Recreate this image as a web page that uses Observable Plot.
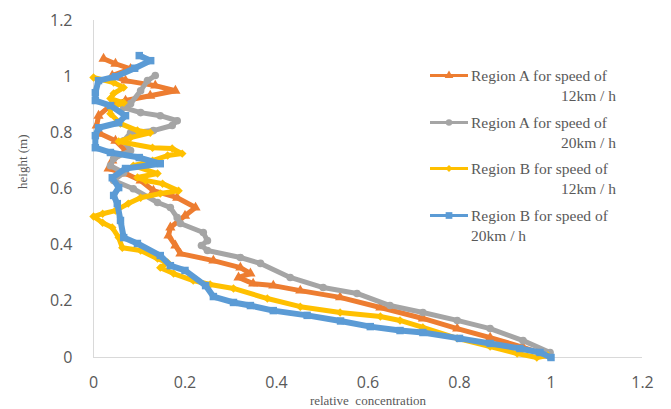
<!DOCTYPE html>
<html>
<head>
<meta charset="utf-8">
<script src="https://cdn.jsdelivr.net/npm/d3@7"></script>
<script src="https://cdn.jsdelivr.net/npm/@observablehq/plot@0.6"></script>
<style>
  body { margin: 0; background: #fff; }
  #wrap { position: relative; width: 671px; height: 409px; }
  .leg { position: absolute; font-family: "Liberation Serif", serif; font-size: 15.5px; color: #595959; white-space: nowrap; }
  .leg svg { position: absolute; left: 0; top: 0; }
</style>
</head>
<body>
<div id="wrap"></div>
<script>
// ---- Data ----
const seriesNames = ["Region A for speed of 12km / h", "Region A for speed of 20km / h", "Region B for speed of 12km / h", "Region B for speed of 20km / h"];
const seriesColors = ["#ED7D31", "#A5A5A5", "#FFC000", "#5B9BD5"];
const seriesSymbols = ["triangle", "circle", "diamond2", "square"];

const regionA12_conc =   [0.022,0.048,0.081,0.041,0.07,0.135,0.179,0.124,0.07,0.037,0.011,0.007,0.015,0.048,0.07,0.041,0.033,0.07,0.103,0.131,0.183,0.223,0.2,0.168,0.164,0.179,0.19,0.262,0.321,0.343,0.317,0.349,0.393,0.452,0.539,0.627,0.72,0.795,0.867,0.939,0.993];
const regionA12_height = [1.064,1.046,1.028,1.004,0.986,0.968,0.95,0.932,0.915,0.897,0.861,0.826,0.797,0.772,0.737,0.701,0.673,0.655,0.63,0.594,0.569,0.534,0.505,0.463,0.434,0.399,0.37,0.345,0.32,0.299,0.285,0.263,0.256,0.238,0.214,0.178,0.139,0.103,0.071,0.036,0.007];

const regionA20_conc =   [0.135,0.118,0.103,0.081,0.066,0.103,0.146,0.183,0.172,0.131,0.081,0.066,0.081,0.044,0.037,0.066,0.044,0.087,0.14,0.168,0.183,0.19,0.24,0.249,0.236,0.249,0.321,0.365,0.43,0.502,0.576,0.648,0.72,0.795,0.867,0.939,0.998];
const regionA20_height = [1.004,0.986,0.95,0.904,0.89,0.872,0.861,0.843,0.826,0.808,0.8,0.772,0.737,0.708,0.683,0.658,0.63,0.601,0.552,0.534,0.498,0.477,0.445,0.416,0.399,0.381,0.356,0.335,0.285,0.249,0.228,0.185,0.16,0.132,0.103,0.06,0.018];

const regionB12_conc =   [0.0,0.044,0.066,0.044,0.037,0.066,0.037,0.037,0.059,0.096,0.124,0.081,0.055,0.129,0.172,0.194,0.162,0.129,0.087,0.14,0.096,0.114,0.151,0.186,0.146,0.103,0.076,0.048,0.02,0.0,0.02,0.041,0.055,0.063,0.103,0.14,0.162,0.146,0.175,0.218,0.255,0.306,0.38,0.452,0.539,0.627,0.67,0.72,0.795,0.867,0.926,0.969,0.993];
const regionB12_height = [0.997,0.979,0.961,0.94,0.922,0.907,0.89,0.868,0.833,0.808,0.8,0.783,0.769,0.747,0.744,0.726,0.719,0.701,0.683,0.655,0.641,0.63,0.619,0.594,0.584,0.569,0.548,0.523,0.512,0.502,0.48,0.463,0.427,0.391,0.381,0.352,0.338,0.32,0.299,0.274,0.26,0.246,0.21,0.181,0.16,0.146,0.132,0.107,0.068,0.039,0.014,0.0,0.007];

const regionB20_conc =   [0.10,0.125,0.09,0.048,0.011,0.004,0.004,0.037,0.07,0.055,0.011,0.004,0.004,0.037,0.10,0.146,0.07,0.041,0.055,0.044,0.052,0.059,0.066,0.096,0.146,0.168,0.2,0.245,0.262,0.306,0.343,0.393,0.467,0.54,0.605,0.67,0.72,0.80,0.867,0.932,0.976,1.0];
const regionB20_height = [1.075,1.057,1.03,1.0,0.986,0.943,0.915,0.897,0.861,0.836,0.818,0.79,0.747,0.73,0.712,0.69,0.673,0.64,0.605,0.577,0.548,0.488,0.427,0.406,0.363,0.327,0.31,0.256,0.217,0.196,0.185,0.167,0.15,0.13,0.11,0.096,0.089,0.068,0.05,0.032,0.018,0.0];

const xTicks = [0, 0.2, 0.4, 0.6, 0.8, 1, 1.2];
const yTicks = [0, 0.2, 0.4, 0.6, 0.8, 1, 1.2];
const xLabel = "relative  concentration";
const yLabel = "height (m)";

// ---- Build tables ----
const concs = [regionA12_conc, regionA20_conc, regionB12_conc, regionB20_conc];
const heights = [regionA12_height, regionA20_height, regionB12_height, regionB20_height];
const tables = concs.map((c, i) => c.map((v, j) => ({series: seriesNames[i], c: v, h: heights[i][j]})));

const marks = [
  Plot.ruleX([0], {stroke: "#d9d9d9", strokeWidth: 1}),
  Plot.ruleY([0], {stroke: "#d9d9d9", strokeWidth: 1})
];
tables.forEach((t, i) => {
  marks.push(Plot.line(t, {x: "c", y: "h", stroke: seriesColors[i], strokeWidth: i === 3 ? 6 : 5, strokeLinejoin: "round", strokeLinecap: "round"}));
  marks.push(Plot.dot(t, {x: "c", y: "h", fill: seriesColors[i], stroke: "none", symbol: seriesSymbols[i], r: i === 3 ? 4.2 : 3.8}));
});
marks.push(Plot.text([yLabel], {frameAnchor: "left", dx: -71, rotate: -90, text: d => d, fontFamily: "Liberation Serif, serif", fontSize: 13, fill: "#595959"}));

const chart = Plot.plot({
  width: 671,
  height: 409,
  marginLeft: 93,
  marginRight: 29,
  marginTop: 20,
  marginBottom: 52,
  style: {fontFamily: "Open Sans, sans-serif", background: "#fff", overflow: "visible"},
  x: {domain: [0, 1.2], ticks: xTicks, tickFormat: d => String(d), tickSize: 0, tickPadding: 19, label: null},
  y: {domain: [0, 1.2], ticks: yTicks, tickFormat: d => String(d), tickSize: 0, tickPadding: 21, label: null},
  marks: [
    ...marks,
    Plot.axisX({ticks: xTicks, tickFormat: d => String(d), tickSize: 0, tickPadding: 19, fontSize: 16, fill: "#595959", label: null}),
    Plot.axisY({ticks: yTicks, tickFormat: d => String(d), tickSize: 0, tickPadding: 21, fontSize: 16, fill: "#595959", label: null}),
    Plot.text([xLabel], {frameAnchor: "bottom", dy: 47, text: d => d, fontFamily: "Liberation Serif, serif", fontSize: 13, fill: "#595959"})
  ]
});
const wrap = document.getElementById("wrap");
wrap.appendChild(chart);

// ---- Legend ----
const legendLines = [["Region A for speed of", "12km / h", "right"], ["Region A for speed of", "20km / h", "right"], ["Region B for speed of", "12km / h", "right"], ["Region B for speed of", "20km / h", "left"]];
const legendTop = [66, 113, 159, 206];
legendLines.forEach((l, i) => {
  const d = document.createElement("div");
  d.className = "leg";
  d.style.left = "430px";
  d.style.top = legendTop[i] + "px";
  d.style.width = "186px";
  const sym = d3.symbol(i === 0 ? d3.symbolTriangle : i === 1 ? d3.symbolCircle : i === 2 ? d3.symbolDiamond2 : d3.symbolSquare, i === 3 ? 45 : 32)();
  d.innerHTML = `<svg width="40" height="20"><line x1="0" x2="38" y1="9.5" y2="9.5" stroke="${seriesColors[i]}" stroke-width="3"/><path transform="translate(19,9.5)" d="${sym}" fill="${seriesColors[i]}"/></svg>`
    + `<div style="padding-left:41px;line-height:20px">${l[0]}</div>`
    + `<div style="text-align:${l[2]};padding-left:${l[2] === 'left' ? 41 : 0}px;line-height:20px">${l[1]}</div>`;
  wrap.appendChild(d);
});
</script>
</body>
</html>
